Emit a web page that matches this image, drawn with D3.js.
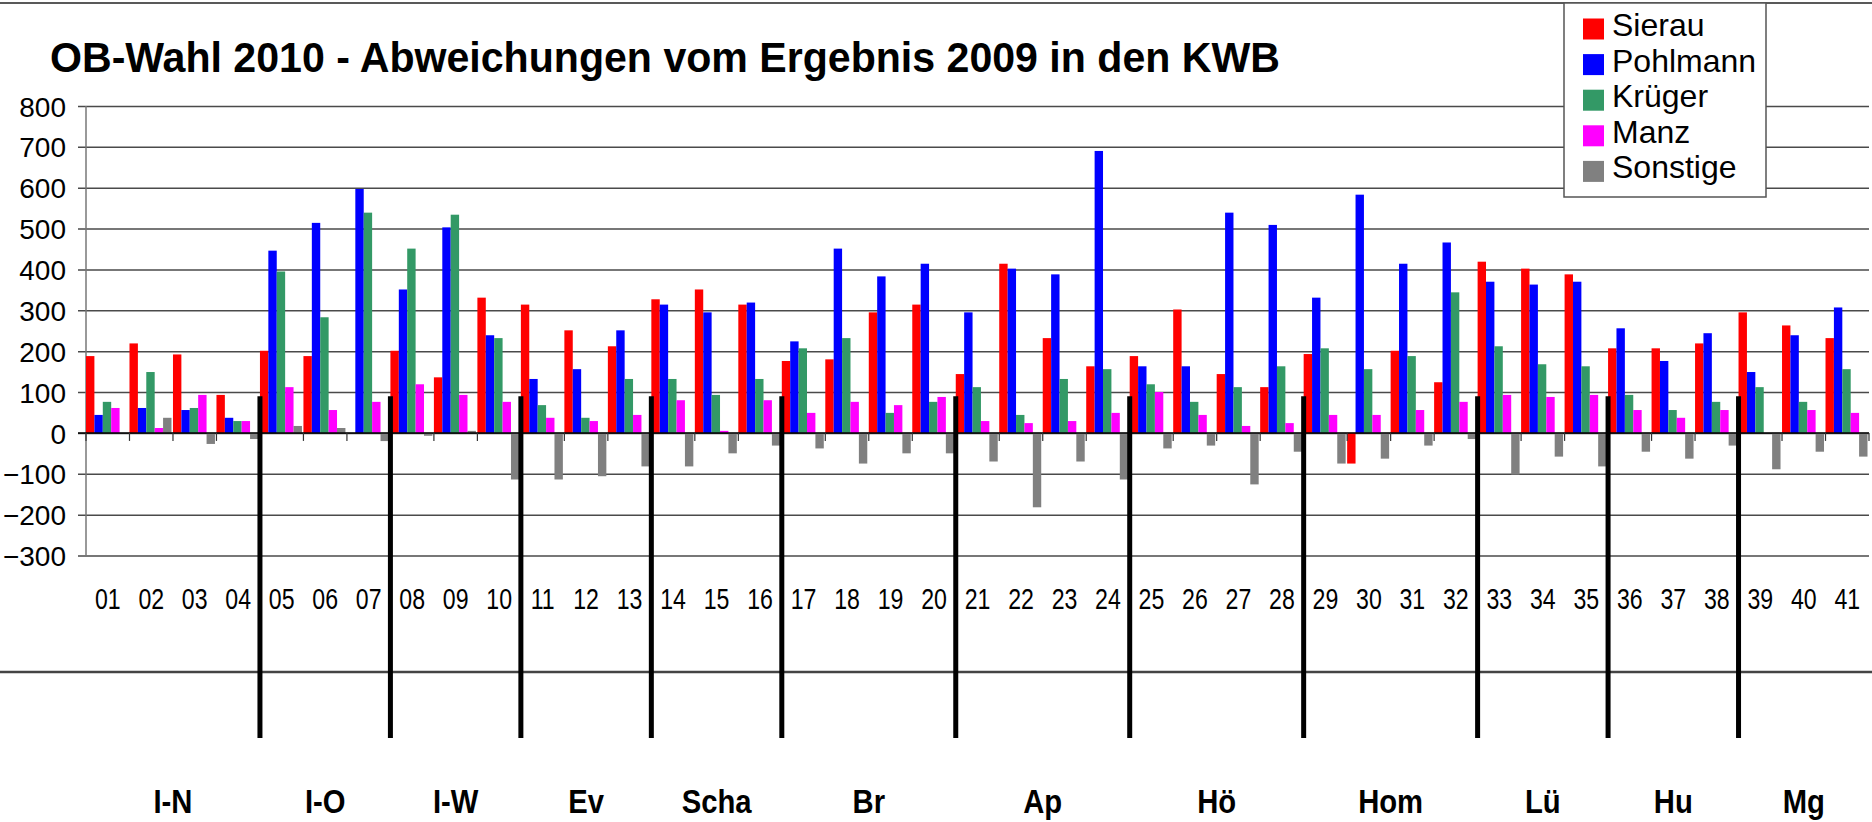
<!DOCTYPE html>
<html>
<head>
<meta charset="utf-8">
<script src="https://cdn.jsdelivr.net/npm/d3@7"></script>
<style>
  body { margin: 0; background: #fff; }
  svg { display: block; font-family: "Liberation Sans", Arial, sans-serif; }
</style>
</head>
<body>
<svg id="chart" width="1872" height="822"></svg>
<script>
// Kommunalwahlbezirke (KWB)
const kwb = ["01","02","03","04","05","06","07","08","09","10",
             "11","12","13","14","15","16","17","18","19","20",
             "21","22","23","24","25","26","27","28","29","30",
             "31","32","33","34","35","36","37","38","39","40","41"];

const seriesNames = ["Sierau", "Pohlmann", "Krüger", "Manz", "Sonstige"];
const seriesColors = ["#ff0000", "#0000ff", "#339966", "#ff00ff", "#808080"];

// Abweichungen (Stimmen) je KWB
const sierau   = [188,219,192,93,201,188,0,201,136,331,314,251,212,327,351,314,176,180,295,314,
                  144,414,232,163,188,302,144,112,193,-75,201,124,419,402,388,207,207,219,295,263,232];
const pohlmann = [44,61,56,37,446,514,597,351,503,239,132,156,251,314,295,319,224,451,383,414,
                  295,402,388,690,163,163,539,509,331,583,414,466,370,363,370,256,176,244,149,239,307];
const krueger  = [76,149,61,29,395,283,539,451,534,232,68,37,132,132,93,132,207,232,49,76,
                  112,44,132,156,119,76,112,163,207,156,188,344,212,168,163,93,56,76,112,76,156];
const manz     = [61,12,93,29,112,56,76,119,93,76,37,29,44,80,5,80,49,76,68,88,
                  29,24,29,49,100,44,17,24,44,44,56,76,93,88,93,56,37,56,0,56,49];
const sonstige = [0,37,-27,-15,17,12,-20,-7,5,-114,-114,-106,-82,-82,-50,-31,-38,-75,-50,-50,
                  -70,-182,-70,-114,-38,-31,-126,-46,-75,-63,-31,-15,-102,-58,-82,-46,-63,-31,-89,-46,-58];

// Stadtbezirke: Name und letzter KWB
const regionNames = ["I-N","I-O","I-W","Ev","Scha","Br","Ap","Hö","Hom","Lü","Hu","Mg"];
const regionLast  = ["04","07","10","13","16","20","24","28","32","35","38","41"];

const yTicks = [800,700,600,500,400,300,200,100,0,-100,-200,-300];

const seriesValues = [sierau, pohlmann, krueger, manz, sonstige];
const rows = kwb.map((k, i) => ({
  kwb: k,
  values: seriesNames.map((s, j) => ({ series: s, value: seriesValues[j][i] }))
}));

const svg = d3.select("#chart");
const plotLeft = 86, plotRight = 1869, plotTop = 106, plotBottom = 555.5;

const x0 = d3.scaleBand().domain(kwb).range([plotLeft, plotRight]).padding(0);
const x1 = d3.scaleBand().domain(seriesNames).range([0, x0.bandwidth() - 1.5]);
const y = d3.scaleLinear().domain([-300, 800]).range([plotBottom, plotTop]);
const color = d3.scaleOrdinal().domain(seriesNames).range(seriesColors);

// gridlines + y labels
const yAxis = svg.append("g")
  .attr("transform", "translate(" + plotLeft + ",0)")
  .call(d3.axisLeft(y).tickValues(yTicks).tickSize(0).tickSizeOuter(0).tickFormat(d3.format("d")));
yAxis.select(".domain").remove();
yAxis.selectAll(".tick line")
  .attr("x1", -8).attr("x2", plotRight - plotLeft)
  .attr("stroke", "#4a4a4a").attr("stroke-width", 1.5);
yAxis.selectAll(".tick text")
  .attr("x", -20).attr("dy", "0.36em")
  .attr("font-size", 28).attr("fill", "#000")
  .attr("font-family", "Liberation Sans, Arial, sans-serif");

// left axis line
svg.append("line")
  .attr("x1", plotLeft).attr("x2", plotLeft).attr("y1", y(800)).attr("y2", y(-300))
  .attr("stroke", "#777").attr("stroke-width", 1.5);

// bars
const groups = svg.append("g").selectAll("g")
  .data(rows).enter().append("g")
  .attr("transform", d => "translate(" + x0(d.kwb) + ",0)");

groups.selectAll("rect")
  .data(d => d.values)
  .enter().append("rect")
  .attr("x", d => x1(d.series))
  .attr("width", x1.bandwidth())
  .attr("y", d => y(Math.max(0, d.value)))
  .attr("height", d => Math.abs(y(d.value) - y(0)))
  .attr("fill", d => color(d.series));

// zero line and category ticks
svg.append("line")
  .attr("x1", plotLeft - 8).attr("x2", plotRight).attr("y1", y(0)).attr("y2", y(0))
  .attr("stroke", "#000").attr("stroke-width", 1.5);
svg.append("g").selectAll("line")
  .data(kwb.concat(["end"])).enter().append("line")
  .attr("x1", d => d === "end" ? plotRight : x0(d))
  .attr("x2", d => d === "end" ? plotRight : x0(d))
  .attr("y1", y(0)).attr("y2", y(0) + 8)
  .attr("stroke", "#333").attr("stroke-width", 1.2);

// KWB labels
svg.append("g").selectAll("text")
  .data(kwb).enter().append("text")
  .attr("transform", d => "translate(" + (x0(d) + x0.bandwidth() / 2) + ",609) scale(0.77,1)")
  .attr("text-anchor", "middle")
  .attr("font-size", 30)
  .text(d => d);

// horizontal separator below labels
svg.append("line")
  .attr("x1", 0).attr("x2", 1872).attr("y1", 672).attr("y2", 672)
  .attr("stroke", "#444").attr("stroke-width", 2.5);

// Stadtbezirk separators and names
const bounds = regionLast.map(k => x0(k) + x0.bandwidth());
const regions = regionNames.map((n, i) => ({
  name: n,
  from: i === 0 ? plotLeft : bounds[i - 1],
  to: bounds[i]
}));

svg.append("g").selectAll("line")
  .data(bounds.slice(0, -1)).enter().append("line")
  .attr("x1", d => d).attr("x2", d => d)
  .attr("y1", y(90)).attr("y2", 738)
  .attr("stroke", "#000").attr("stroke-width", 5);

svg.append("g").selectAll("text")
  .data(regions).enter().append("text")
  .attr("transform", d => "translate(" + ((d.from + d.to) / 2) + ",813) scale(0.86,1)")
  .attr("text-anchor", "middle")
  .attr("font-size", 34)
  .attr("font-weight", "bold")
  .text(d => d.name);

// top border
svg.append("line")
  .attr("x1", 0).attr("x2", 1872).attr("y1", 3).attr("y2", 3)
  .attr("stroke", "#222").attr("stroke-width", 1.5);

// legend
const legend = svg.append("g").attr("transform", "translate(1564,3)");
legend.append("rect")
  .attr("width", 202).attr("height", 194)
  .attr("fill", "#fff").attr("stroke", "#555").attr("stroke-width", 1.5);
const items = legend.selectAll("g.item")
  .data(seriesNames).enter().append("g")
  .attr("class", "item")
  .attr("transform", (d, i) => "translate(19," + (26 + i * 35.6) + ")");
items.append("rect")
  .attr("y", -10.5).attr("width", 21).attr("height", 21)
  .attr("fill", d => color(d));
items.append("text")
  .attr("x", 29).attr("y", 7)
  .attr("font-size", 32)
  .text(d => d);

// title
svg.append("text")
  .attr("transform", "translate(50,72) scale(0.956,1)")
  .attr("font-size", 43)
  .attr("font-weight", "bold")
  .text("OB-Wahl 2010 - Abweichungen vom Ergebnis 2009 in den KWB");
</script>
</body>
</html>
